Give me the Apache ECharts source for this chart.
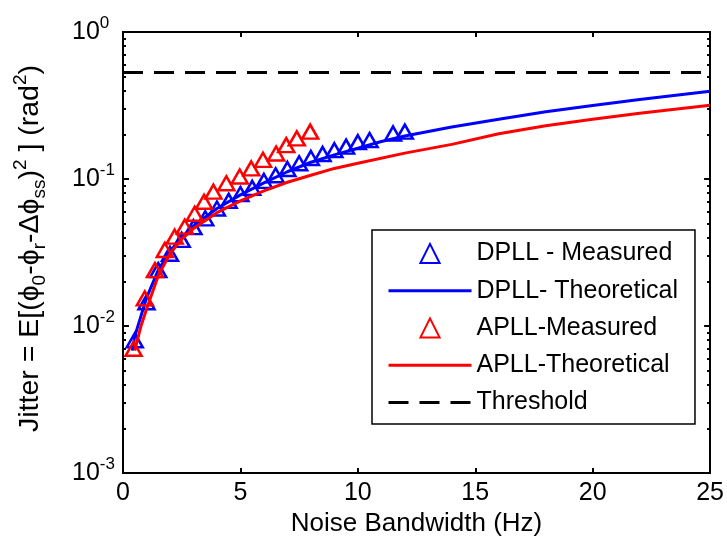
<!DOCTYPE html>
<html>
<head>
<meta charset="utf-8">
<script src="https://cdn.jsdelivr.net/npm/echarts@6/dist/echarts.min.js"></script>
<style>
  html, body { margin: 0; padding: 0; background: #fff; }
  #chart { width: 727px; height: 548px; }
</style>
</head>
<body>
<div id="chart"></div>
<script>
// Noise bandwidth (Hz) and measured jitter for the DPLL
const bwDpllMeas = [0.5, 1.0, 1.5, 2.0, 2.5, 3.0, 3.5, 4.0, 4.5, 5.0, 5.5, 6.0, 6.5, 7.0, 7.5, 8.0, 8.5, 9.0, 9.5, 10.0, 10.5, 11.5, 12.0];
const jitDpllMeas = [0.008, 0.0145, 0.024, 0.031, 0.0385, 0.047, 0.054, 0.063, 0.071, 0.079, 0.087, 0.097, 0.106, 0.117, 0.128, 0.139, 0.148, 0.157, 0.166, 0.178, 0.184, 0.204, 0.21];

// DPLL theoretical curve
const bwDpllTheo = [0.4, 0.5, 0.75, 1, 1.5, 2, 2.5, 3, 4, 5, 6, 7, 8, 9, 10, 11, 12, 14, 16, 18, 20, 22, 25];
const jitDpllTheo = [0.0068, 0.0085, 0.0115, 0.0155, 0.024, 0.032, 0.04, 0.048, 0.063, 0.078, 0.094, 0.112, 0.13, 0.146, 0.162, 0.18, 0.196, 0.226, 0.255, 0.287, 0.316, 0.347, 0.395];

// APLL measured jitter
const bwApllMeas = [0.45, 0.93, 1.36, 1.78, 2.2, 2.63, 3.05, 3.45, 3.85, 4.4, 4.97, 5.46, 5.96, 6.52, 6.95, 7.4, 7.97];
const jitApllMeas = [0.007, 0.0154, 0.024, 0.0329, 0.0405, 0.0474, 0.058, 0.070, 0.082, 0.0935, 0.104, 0.118, 0.135, 0.149, 0.17, 0.189, 0.21];

// APLL theoretical curve
const bwApllTheo = [0.5, 0.75, 1, 1.5, 2, 2.5, 3, 4, 5, 6, 7, 8, 9, 10, 12, 14, 16, 18, 20, 22, 25];
const jitApllTheo = [0.0068, 0.0098, 0.013, 0.022, 0.031, 0.039, 0.046, 0.059, 0.071, 0.083, 0.095, 0.106, 0.118, 0.128, 0.150, 0.172, 0.203, 0.23, 0.255, 0.28, 0.318];

// Jitter threshold
const bwThreshold = [0, 25];
const jitThreshold = [0.53, 0.53];

// Axis ticks
const xTicks = [0, 5, 10, 15, 20, 25];
const yMajor = [0.001, 0.01, 0.1, 1];
const yMinor = [];
[0.001, 0.01, 0.1].forEach(function (d) {
  for (let k = 2; k <= 9; k++) yMinor.push(+(d * k).toPrecision(3));
});

const FONT = '"Liberation Sans", Arial, Helvetica, sans-serif';
const BLUE = '#0000ff';
const RED = '#ff0000';

const zip = (xs, ys) => xs.map((x, i) => [x, ys[i]]);

const chart = echarts.init(document.getElementById('chart'), null, { renderer: 'canvas' });

const baseX = {
  type: 'value', min: xTicks[0], max: xTicks[xTicks.length - 1], interval: 5,
  axisLine: { show: true, onZero: false, lineStyle: { color: '#000', width: 2 } },
  axisTick: { show: true, inside: true, length: 5, lineStyle: { color: '#000', width: 2 } },
  splitLine: { show: false }
};

const logAxis = (pos, labels, minor) => ({
  type: 'log', logBase: 10, min: yMajor[0], max: yMajor[yMajor.length - 1], position: pos,
  axisLine: { show: true, onZero: false, lineStyle: { color: '#000', width: 2 } },
  axisTick: minor
    ? { show: true, inside: true, length: 3, customValues: yMinor, lineStyle: { color: '#000', width: 2 } }
    : { show: true, inside: true, length: 6, lineStyle: { color: '#000', width: 2 } },
  axisLabel: labels ? {
    show: true, align: 'left', margin: 51,
    formatter: function (v) {
      const e = Math.round(Math.log10(v));
      return '{b|10}{s|' + e + '}';
    },
    rich: {
      b: { fontFamily: FONT, fontSize: 25, color: '#000', lineHeight: 34, verticalAlign: 'middle' },
      s: { fontFamily: FONT, fontSize: 17, color: '#000', lineHeight: 17, verticalAlign: 'top' }
    }
  } : { show: false },
  splitLine: { show: false },
  name: labels ? '{t|Jitter = E[(ϕ}{sub|0}{t|-ϕ}{sub|r}{t|-Δϕ}{sub|ss}{t|)}{sup|2}{t| ] (rad}{sup|2}{t|)}' : '',
  nameLocation: 'middle',
  nameGap: 74,
  nameRotate: 90,
  nameTextStyle: {
    padding: [0, 0, 0, 8],
    rich: {
      t: { fontFamily: FONT, fontSize: 28.5, color: '#000', lineHeight: 38, verticalAlign: 'middle' },
      sub: { fontFamily: FONT, fontSize: 19, color: '#000', lineHeight: 19, verticalAlign: 'bottom' },
      sup: { fontFamily: FONT, fontSize: 19, color: '#000', lineHeight: 19, verticalAlign: 'top' }
    }
  }
});

const hiddenMarker = { opacity: 0 };

const option = {
  backgroundColor: '#fff',
  animation: false,
  grid: { left: 123, right: 15, top: 32, bottom: 75, containLabel: false },
  xAxis: [
    Object.assign({}, baseX, {
      position: 'bottom',
      name: 'Noise Bandwidth (Hz)', nameLocation: 'middle', nameGap: 36,
      nameTextStyle: { fontFamily: FONT, fontSize: 26, color: '#000' },
      axisLabel: { show: true, margin: 8, fontFamily: FONT, fontSize: 25, color: '#000' }
    }),
    Object.assign({}, baseX, { position: 'top', axisLabel: { show: false } })
  ],
  yAxis: [
    logAxis('left', true, false),
    logAxis('left', false, true),
    logAxis('right', false, false),
    logAxis('right', false, true)
  ],
  legend: {
    orient: 'vertical', left: 372, top: 230,
    padding: [11, 17, 9, 15],
    itemWidth: 83, itemHeight: 24, itemGap: 12.25,
    backgroundColor: '#fff', borderColor: '#000', borderWidth: 1.5, borderRadius: 0,
    lineStyle: { width: 3 },
    textStyle: { fontFamily: FONT, fontSize: 25, color: '#000', lineHeight: 24 },
    data: [
      { name: 'DPLL - Measured' },
      { name: 'DPLL- Theoretical', itemStyle: hiddenMarker },
      { name: 'APLL-Measured' },
      { name: 'APLL-Theoretical', itemStyle: hiddenMarker },
      { name: 'Threshold', itemStyle: hiddenMarker }
    ]
  },
  series: [
    {
      name: 'DPLL - Measured', type: 'line', data: zip(bwDpllMeas, jitDpllMeas),
      symbol: 'triangle', symbolSize: [16, 14], showSymbol: true,
      lineStyle: { opacity: 0, width: 0 },
      itemStyle: { color: 'rgba(255,255,255,0)', borderColor: BLUE, borderWidth: 2.5 },
      z: 2
    },
    {
      name: 'DPLL- Theoretical', type: 'line', data: zip(bwDpllTheo, jitDpllTheo),
      showSymbol: false, symbol: 'none',
      lineStyle: { color: BLUE, width: 3 }, itemStyle: { color: BLUE },
      z: 3
    },
    {
      name: 'APLL-Measured', type: 'line', data: zip(bwApllMeas, jitApllMeas),
      symbol: 'triangle', symbolSize: [16, 14], showSymbol: true,
      lineStyle: { opacity: 0, width: 0 },
      itemStyle: { color: 'rgba(255,255,255,0)', borderColor: RED, borderWidth: 2.5 },
      z: 4
    },
    {
      name: 'APLL-Theoretical', type: 'line', data: zip(bwApllTheo, jitApllTheo),
      showSymbol: false, symbol: 'none',
      lineStyle: { color: RED, width: 3 }, itemStyle: { color: RED },
      z: 5
    },
    {
      name: 'Threshold', type: 'line', data: zip(bwThreshold, jitThreshold),
      showSymbol: false, symbol: 'none',
      lineStyle: { color: '#000', width: 3, type: [20, 11] }, itemStyle: { color: '#000' },
      z: 6
    }
  ]
};

chart.setOption(option);
</script>
</body>
</html>
